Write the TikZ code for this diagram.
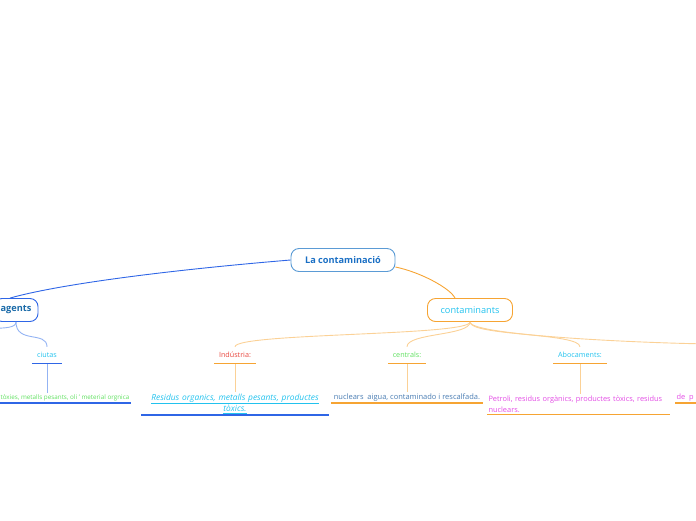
\documentclass[tikz,border=0pt]{standalone}
\usepackage{fontspec}
\setmainfont{Open Sans}
\usetikzlibrary{positioning}

\definecolor{rootline}{HTML}{5B9BD5}
\definecolor{roottext}{HTML}{1A6FC4}
\definecolor{agentline}{HTML}{2F66E6}
\definecolor{agenttext}{HTML}{1A6AA8}
\definecolor{agentsoft}{HTML}{93B3F3}
\definecolor{contline}{HTML}{F6A433}
\definecolor{contsoft}{HTML}{FBD196}
\definecolor{skyt}{HTML}{22C2EE}
\definecolor{redt}{HTML}{E8453C}
\definecolor{greent}{HTML}{5EE05E}
\definecolor{steelt}{HTML}{4A7DB3}
\definecolor{magt}{HTML}{E34DE5}

\begin{document}
\begin{tikzpicture}[
			x=1pt, y=-1pt,
			topic/.style={rectangle, draw, rounded corners=8pt, minimum height=23pt, inner sep=2pt, line width=0.9pt, font=\fontsize{9.2}{11}\selectfont},
			subtopic/.style={rectangle, minimum height=16pt, inner sep=1pt, font=\fontsize{7.2}{8}\selectfont},
			leaf/.style={rectangle, inner sep=1.5pt, font=\fontsize{7}{11}\selectfont},
			ul/.style={line width=1.3pt, contline},
			link/.style={line width=0.9pt}
			]
			\useasboundingbox (0,0) rectangle (696,520);
			% Main topics
			\node (root) [topic, draw=rootline, text=roottext, minimum width=104pt] at (343,260) {\textbf{La contaminació}};
			\node (agents) [topic, draw=agentline, text=agenttext, minimum width=44pt] at (16,310) {\textbf{agents}};
			\node (contam) [topic, draw=contline, text=skyt, minimum width=85pt] at (470,310) {contaminants};
			
			% Subtopics
			\node (ciutas) [subtopic, text=skyt, minimum width=30pt] at (47,355) {ciutas};
			\node (industria) [subtopic, text=redt, minimum width=42pt] at (235,355) {Indústria:};
			\node (centrals) [subtopic, text=greent, minimum width=38pt] at (407,355) {centrals:};
			\node (aboc) [subtopic, text=skyt, minimum width=53pt] at (580,355) {Abocaments:};
			\coordinate (offleft) at (-30,338);
			\coordinate (offright) at (720,344);
			
			% Leaves
			\node (leafciutas) [leaf, anchor=south east, text=greent, font=\fontsize{6.3}{7}\selectfont] at (131,403) {tòxies, metalls pesants, oli ' meterial orgnica};
			\node (leafind) [leaf, text=skyt, align=center, text width=184pt, font=\fontsize{8.4}{11}\selectfont\itshape, anchor=south] at (235,415) {\underline{Residus organics, metalls pesants, productes}\\\underline{tòxics.}};
			\node (leafcent) [leaf, text=steelt, minimum width=152pt, font=\fontsize{7.5}{11}\selectfont, anchor=south] at (407,403) {nuclears\ \ aigua, contaminado i rescalfada.};
			\node (leafaboc) [leaf, text=magt, align=left, text width=180pt, font=\fontsize{7.4}{11}\selectfont, anchor=south] at (578.5,414.5) {Petroli, residus orgànics, productes tòxics, residus\\nuclears.};
			\node (leafright) [leaf, text=magt, font=\fontsize{7.4}{11}\selectfont, anchor=south west] at (675,403) {de\ \ p};
			
			% Branches
			\draw [link, agentline] (root.west) .. controls (170,270) and (60,284) .. ([xshift=-6pt]agents.north);
			\draw [link, contline] ([yshift=-7pt]root.east) .. controls (420,272) and (450,288) .. ([xshift=-15pt]contam.north);
			\draw [link, agentsoft] (agents.south) .. controls +(0,12) and +(0,-16) .. (offleft);
			\draw [link, agentsoft] (agents.south) .. controls +(0,22) and +(0,-16) .. (ciutas.north);
			\foreach \kid in {industria, centrals, aboc} {
				\draw [link, contsoft] (contam.south) .. controls +(0,14) and +(0,-14) .. (\kid.north);
			}
			\draw [link, contsoft] (contam.south) .. controls +(0,14) and +(-60,0) .. (offright);
			
			% Stems to leaves
			\draw [link, agentsoft] (ciutas.south) -- (ciutas.south |- leafciutas.north);
			\draw [link, contsoft] (industria.south) -- (industria.south |- leafind.north);
			\draw [link, contsoft] (centrals.south) -- (centrals.south |- leafcent.north);
			\draw [link, contsoft] (aboc.south) -- (aboc.south |- leafaboc.north);
			
			% Underlines
			\draw [ul, agentline] (ciutas.south west) -- (ciutas.south east);
			\draw [ul] (industria.south west) -- (industria.south east);
			\draw [ul] (centrals.south west) -- (centrals.south east);
			\draw [ul] (aboc.south west) -- (aboc.south east);
			\draw [ul, agentline] ([xshift=-10pt]leafciutas.south west) -- (leafciutas.south east);
			\draw [ul, agentline, line width=1.6pt] (leafind.south west) -- (leafind.south east);
			\draw [ul] (leafcent.south west) -- (leafcent.south east);
			\draw [ul] (leafaboc.south west) -- (leafaboc.south east);
			\draw [ul] (leafright.south west) -- ++(40,0);
		\end{tikzpicture}
\end{document}
